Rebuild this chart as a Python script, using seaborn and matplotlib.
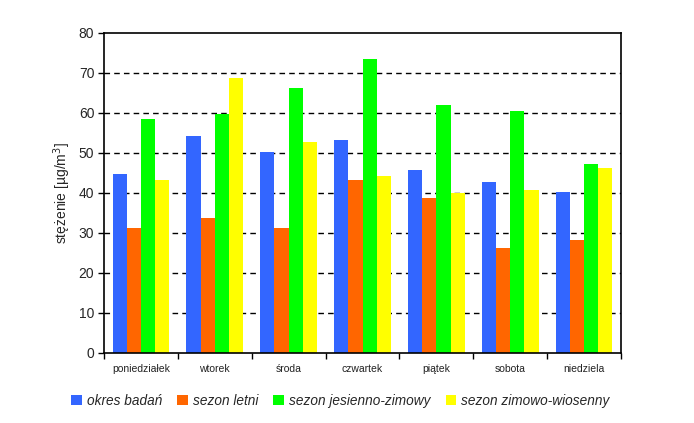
import numpy as np
import pandas as pd

import matplotlib
matplotlib.use("Agg")
import matplotlib.pyplot as plt
import seaborn as sns
from matplotlib.patches import Patch

# ==================================================
# DATA
# ==================================================

DAYS = [
    "poniedziałek", "wtorek", "środa", "czwartek",
    "piątek", "sobota", "niedziela"
]

SERIES = [
    "okres badań",
    "sezon letni",
    "sezon jesienno-zimowy",
    "sezon zimowo-wiosenny"
]

okres_badan = [44.6, 54.3, 50.1, 53.3, 45.8, 42.6, 40.3]
sezon_letni = [31.1, 33.6, 31.3, 43.1, 38.8, 26.3, 28.3]
sezon_jesienno_zimowy = [58.3, 59.6, 66.1, 73.3, 61.8, 60.3, 47.1]
sezon_zimowo_wiosenny = [43.1, 68.6, 52.8, 44.3, 40.0, 40.8, 46.1]

COLORS = ["#3366FF", "#FF6600", "#00FF00", "#FFFF00"]

# ==================================================
# LONG TABLE
# ==================================================

values = [okres_badan, sezon_letni, sezon_jesienno_zimowy, sezon_zimowo_wiosenny]

rows = []
for name, vals in zip(SERIES, values):
    for day, v in zip(DAYS, vals):
        rows.append({"dzien": day, "seria": name, "wartosc": v})

df = pd.DataFrame(rows)

# ==================================================
# PLOT
# ==================================================

sns.set_style("white")
plt.rcParams["font.family"] = ["Liberation Sans", "DejaVu Sans"]

fig = plt.figure(figsize=(6.94, 4.23), dpi=100)
ax = fig.add_axes([0.1499, 0.1655, 0.7449, 0.7575])

sns.barplot(
    data=df,
    x="dzien",
    y="wartosc",
    hue="seria",
    order=DAYS,
    hue_order=SERIES,
    palette=COLORS,
    width=0.77,
    gap=0,
    saturation=1,
    edgecolor="none",
    linewidth=0,
    legend=False,
    ax=ax
)

ax.set_ylim(0, 80)
ax.set_xlim(-0.5, len(DAYS) - 0.5)
ax.set_yticks(range(0, 81, 10))
ax.tick_params(axis="y", labelsize=10, length=4, width=1,
               direction="out", left=True, color="black", pad=3)

# x ticks between categories, labels centered
ax.set_xticks(np.arange(len(DAYS)))
ax.set_xticklabels(DAYS, fontsize=7.5, color="#222222")
ax.tick_params(axis="x", length=0, pad=8)
ax.set_xticks(np.arange(-0.5, len(DAYS) + 0.5, 1), minor=True)
ax.tick_params(axis="x", which="minor", length=4, width=1,
               direction="out", bottom=True, color="black")

for y in range(10, 80, 10):
    ax.axhline(y, color="black", linestyle=(0, (4, 3)), linewidth=1, zorder=0)

for s in ax.spines.values():
    s.set_visible(True)
    s.set_color("black")
    s.set_linewidth(1.2)

ax.set_xlabel("")
ax.set_ylabel("stężenie [µg/m$^3$]", fontsize=10, labelpad=4)

handles = [Patch(facecolor=c, edgecolor="none") for c in COLORS]
fig.legend(
    handles, SERIES,
    loc="center",
    bbox_to_anchor=(0.4906, 0.053),
    ncol=4,
    frameon=False,
    prop={"style": "italic", "size": 9.8},
    handlelength=0.75,
    handleheight=0.75,
    handletextpad=0.4,
    columnspacing=1.1
)

fig.savefig("out.png", dpi=100)
